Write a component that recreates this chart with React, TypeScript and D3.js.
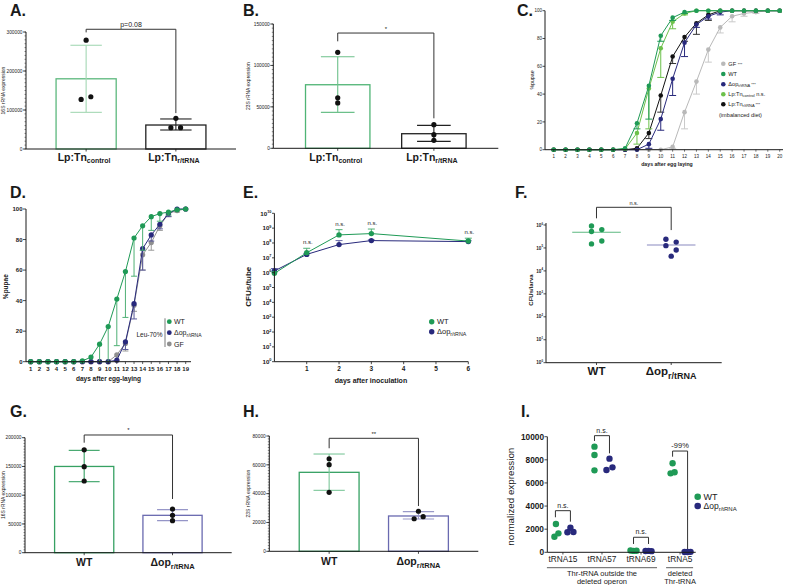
import React from "react";
import * as d3 from "d3";

const FONT = "'Liberation Sans', Arial, Helvetica, sans-serif";
const GREEN = "#1f9a56";
const NAVY = "#28297c";
const LIGHT_GREEN = "#6dc14b";
const GRAY_C = "#b9b9b9";
const GRAY_D = "#8f8f8f";
const INK = "#1a1a1a";

// ---------------- Panel A: 16S rRNA expression (Lp:Tn) ----------------
const aLabelSubs = ["control", "r/tRNA"];
const aMeans = [180000, 61500];
const aErrHigh = [266000, 77000];
const aErrLow = [94000, 48700];
const aDots = [[279000, 127000, 134000], [78700, 54600, 54600]];
const aTicks = [0, 100000, 200000, 300000];
const aBracket = [307000, 299000, 92000];

// ---------------- Panel B: 23S rRNA expression (Lp:Tn) ----------------
const bMeans = [76700, 17600];
const bErrHigh = [110500, 27700];
const bErrLow = [43400, 8400];
const bDots = [[115800, 61000, 54700], [28500, 16400, 9600]];
const bTicks = [0, 50000, 100000, 150000];
const bBracket = [139100, 129100, 36200];

// ---------------- Panel C: %pupae, imbalanced diet ----------------
const cDays = [1, 2, 3, 4, 5, 6, 7, 8, 9, 10, 11, 12, 13, 14, 15, 16, 17, 18, 19, 20];
const cGF = [0, 0, 0, 0, 0, 0, 0, 0, 0, 0, 2, 27, 49, 72, 88, 96, 98, 99, 100, 100];
const cGFLow = [0, 0, 0, 0, 0, 0, 0, 0, 0, 0, 1, 15, 40, 63, 84, 92, 96, 98, 100, 100];
const cWT = [0, 0, 0, 0, 0, 0, 1, 19, 46, 82, 95, 99, 100, 100, 100, 100, 100, 100, 100, 100];
const cWTLow = [0, 0, 0, 0, 0, 0, 1, 15, 22, 78, 93, 98, 100, 100, 100, 100, 100, 100, 100, 100];
const cOp = [0, 0, 0, 0, 0, 0, 0, 0, 4, 22, 51, 77, 90, 96, 99, 100, 100, 100, 100, 100];
const cOpLow = [0, 0, 0, 0, 0, 0, 0, 0, 1, 14, 39, 67, 88, 94, 97, 100, 100, 100, 100, 100];
const cTnC = [0, 0, 0, 0, 0, 0, 0.5, 12, 44, 73, 92, 98, 100, 100, 100, 100, 100, 100, 100, 100];
const cTnCLow = [0, 0, 0, 0, 0, 0, 0.5, 4, 15, 52, 87, 97, 100, 100, 100, 100, 100, 100, 100, 100];
const cTnR = [0, 0, 0, 0, 0, 0, 0, 1, 12, 39, 67, 81, 91, 97, 100, 100, 100, 100, 100, 100];
const cTnRLow = [0, 0, 0, 0, 0, 0, 0, 1, 8, 27, 62, 78, 83, 93, 100, 100, 100, 100, 100, 100];
const cTicks = [0, 20, 40, 60, 80, 100];

// ---------------- Panel D: %pupae, Leu-70% ----------------
const dDays = [1, 2, 3, 4, 5, 6, 7, 8, 9, 10, 11, 12, 13, 14, 15, 16, 17, 18, 19];
const dWT = [0, 0, 0, 0, 0, 0, 0.5, 3, 11.5, 23, 41, 59, 81, 89, 95, 97, 98, 99.5, 100];
const dWTLow = [0, 0, 0, 0, 0, 0, 0.5, 3, 0, 0, 10.5, 29, 56, 73, 86, 92, 96, 99, 100];
const dOp = [0, 0, 0, 0, 0, 0, 0, 0, 0, 0, 1, 13, 38, 74, 83, 90, 97, 100, 100];
const dOpLow = [0, 0, 0, 0, 0, 0, 0, 0, 0, 0, 1, 8, 28, 60, 79, 87, 95, 100, 100];
const dGF = [0, 0, 0, 0, 0, 0, 0, 0, 0, 0, 4.5, 12, 37, 70, 78, 89, 97, 99, 100];
const dGFLow = [0, 0, 0, 0, 0, 0, 0, 0, 0, 0, 1, 7, 33, 60, 73, 86, 95, 98, 100];
const dTicks = [0, 20, 40, 60, 80, 100];

// ---------------- Panel E: CFUs/tube ----------------
const eDays = [0, 1, 2, 3, 6];
const eWT = [9e5, 2.2e7, 3.5e8, 4.3e8, 1.35e8];
const eWTHigh = [1.1e6, 4.4e7, 7.9e8, 8.7e8, 2.1e8];
const eOp = [1.3e6, 1.7e7, 7.8e7, 1.45e8, 1.24e8];
const eOpHigh = [1.9e6, 2.0e7, 1.45e8, 1.6e8, 1.4e8];
const eTickDays = [1, 2, 3, 4, 5, 6];
const eExponents = [0, 1, 2, 3, 4, 5, 6, 7, 8, 9, 10];
const eNsDays = [1, 2, 3, 6];

// ---------------- Panel F: CFUs/larva ----------------
const fCats = ["WT", "op"];
const fWT = [9.1e5, 5.2e5, 6.3e5, 2.0e5, 1.5e5];
const fOp = [2.4e5, 1.26e5, 1.8e5, 8.2e4, 4.4e4];
const fExponents = [0, 1, 2, 3, 4, 5, 6];
const fBracket = [5.9e6, 1.95e6, 6.0e5];

// ---------------- Panel G: 16S rRNA (WT vs Δop) ----------------
const gMeans = [150000, 65000];
const gErrHigh = [178000, 74800];
const gErrLow = [123500, 55700];
const gDots = [[179000, 149600, 124700], [76000, 65000, 55700]];
const gTicks = [0, 50000, 100000, 150000, 200000];
const gBracket = [204700, 191300, 93400];

// ---------------- Panel H: 23S rRNA (WT vs Δop) ----------------
const hMeans = [54800, 24500];
const hErrHigh = [67500, 27500];
const hErrLow = [42300, 22400];
const hDots = [[64200, 60100, 40900], [27800, 22600, 24000]];
const hTicks = [0, 20000, 40000, 60000, 80000];
const hBracket = [78400, 71500, 31400];

// ---------------- Panel I: normalized expression ----------------
const iCats = ["tRNA15", "tRNA57", "tRNA69", "tRNA5"];
const iWT = [[2450, 1350, 1640], [9140, 8420, 7090], [150, 120, 140], [7700, 6830, 6920]];
const iOp = [[2130, 1730, 1760], [8100, 7120, 7350], [110, 120, 100], [30, 20, 40]];
const iBracketTop = [3600, 10090, 1300, 8760];
const iBracketLeft = [3030, 9630, 720, 8270];
const iBracketRight = [2650, 8560, 720, 200];
const iBracketText = ["n.s.", "n.s.", "n.s.", "-99%"];
const iTicks = [0, 2000, 4000, 6000, 8000, 10000];

// ---------- layout-only jitter (pixels) ----------
const jitterA = [[0, -5, 4.7], [0, -5, 4.7]];
const jitterZero = [[0, 0, 0], [0, 0, 0]];
const jitterH = [[0, 0, 0], [0, -4.3, 4.7]];
const jitterFWT = [-5, -5, 5.3, 5.3, -5];
const jitterFOp = [-5.3, -5.3, 5, 5, 0];
const jitterIWT = [[0.5, -1, 3], [0, 0, 0], [-3, 0, 3], [0, -2, 2]];
const jitterIOp = [[0, -3, 3], [0, -3, 3], [-3, 0, 3], [-3, 0, 3]];

const fmt = d3.format("d");

function SubText({ x, y, main, sub, size, subSize, weight = "bold", anchor = "middle", fill = INK, tail = "", tailSize = 0 }: any) {
  return (
    <text x={x} y={y} fontSize={size} fontWeight={weight} textAnchor={anchor} fill={fill}>
      {main}
      <tspan fontSize={subSize} dy={subSize * 0.4}>{sub}</tspan>
      {tail ? <tspan fontSize={tailSize || size} dy={-subSize * 0.4}>{tail}</tspan> : null}
    </text>
  );
}

function PowLabel({ x, y, exp, size }: any) {
  return (
    <text x={x} y={y} fontSize={size} fontWeight="bold" textAnchor="end" fill={INK}>
      10<tspan fontSize={size * 0.62} dy={-size * 0.45}>{exp}</tspan>
    </text>
  );
}

function RotLabel({ x, y, text, size, weight = "normal" }: any) {
  return (
    <text transform={`translate(${x + size * 0.35},${y}) rotate(-90)`} fontSize={size} fontWeight={weight} textAnchor="middle" fill={INK}>
      {text}
    </text>
  );
}

function BarPanel(p: any) {
  const y = d3.scaleLinear().domain([0, p.yMax]).range([p.yBottom, p.yTop]);
  const keys = p.means.map((_: any, i: number) => String(i));
  const x = d3.scalePoint().domain(keys).range([p.x0, p.x1]).padding(0.67);
  const step = x.step();
  const bw = step * 0.67;
  const cw = step * 0.35;
  const cx = (i: number) => x(String(i)) as number;
  const minors = d3.range(0, p.yMax + 1, p.minorStep);
  const [bt, bl, br] = p.bracket;
  return (
    <g>
      {p.means.map((m: number, i: number) => (
        <rect key={"bar" + i} x={cx(i) - bw / 2} y={y(m)} width={bw} height={p.yBottom - y(m)} fill="none" stroke={p.barStroke[i]} strokeWidth={1.3} />
      ))}
      {p.means.map((m: number, i: number) => (
        <g key={"err" + i} stroke={p.errStroke[i]} strokeWidth={1.1}>
          <line x1={cx(i)} x2={cx(i)} y1={y(p.errHigh[i])} y2={y(p.errLow[i])} />
          <line x1={cx(i) - cw / 2} x2={cx(i) + cw / 2} y1={y(p.errHigh[i])} y2={y(p.errHigh[i])} />
          <line x1={cx(i) - cw / 2} x2={cx(i) + cw / 2} y1={y(p.errLow[i])} y2={y(p.errLow[i])} />
        </g>
      ))}
      <path d={`M${cx(0)},${y(bl)}V${y(bt)}H${cx(1)}V${y(br)}`} fill="none" stroke="#333" strokeWidth={1} />
      <text x={(cx(0) + cx(1)) / 2} y={y(bt) - 2.5} fontSize={p.bracketFont} textAnchor="middle" fill={INK}>{p.bracketText}</text>
      {p.dots.map((ds: number[], i: number) =>
        ds.map((d, j) => <circle key={`d${i}-${j}`} cx={cx(i) + p.jitter[i][j]} cy={y(d)} r={2.6} fill="#111" />)
      )}
      <line x1={p.x0} x2={p.x0} y1={p.yTop} y2={p.yBottom} stroke={INK} strokeWidth={1} />
      <line x1={p.x0} x2={p.x1} y1={p.yBottom} y2={p.yBottom} stroke={INK} strokeWidth={1} />
      {minors.map((t: number) => (
        <line key={"mi" + t} x1={p.x0 - 1.5} x2={p.x0} y1={y(t)} y2={y(t)} stroke={INK} strokeWidth={0.5} />
      ))}
      {p.ticks.map((t: number) => (
        <g key={"t" + t}>
          <line x1={p.x0 - 3} x2={p.x0} y1={y(t)} y2={y(t)} stroke={INK} strokeWidth={0.8} />
          <text x={p.x0 - 3.5} y={y(t) + p.tickFont * 0.35} fontSize={p.tickFont} textAnchor="end" fill={INK}>{fmt(t)}</text>
        </g>
      ))}
      {keys.map((k: string, i: number) => (
        <line key={"xt" + k} x1={cx(i)} x2={cx(i)} y1={p.yBottom} y2={p.yBottom + 2.5} stroke={INK} strokeWidth={0.8} />
      ))}
      <RotLabel x={p.yLabelX} y={(p.yTop + p.yBottom) / 2} text={p.yLabel} size={p.yLabelFont} />
      {p.labelMain.map((lm: string, i: number) => (
        <SubText key={"lab" + i} x={cx(i) + p.labelDx} y={p.labelY} main={lm} sub={p.labelSub[i]} size={p.labelSize} subSize={p.labelSubSize} />
      ))}
    </g>
  );
}

function LineSeries({ x, y, days, values, low, color, errColor, r, cap }: any) {
  const line = d3.line<number>().x((_, i) => x(days[i])).y((d) => y(d));
  return (
    <g>
      {values.map((v: number, i: number) =>
        Math.abs(low[i] - v) > 0.4 ? (
          <g key={"e" + i} stroke={errColor} strokeWidth={1}>
            <line x1={x(days[i])} x2={x(days[i])} y1={y(v)} y2={y(low[i])} />
            <line x1={x(days[i]) - cap / 2} x2={x(days[i]) + cap / 2} y1={y(low[i])} y2={y(low[i])} />
          </g>
        ) : null
      )}
      <path d={line(values) as string} fill="none" stroke={color} strokeWidth={1} />
      {values.map((v: number, i: number) => (
        <circle key={"c" + i} cx={x(days[i])} cy={y(v)} r={r} fill={color} />
      ))}
    </g>
  );
}

function PanelC() {
  const x = d3.scaleLinear().domain([1, 20]).range([553.7, 779.7]);
  const y = d3.scaleLinear().domain([0, 100]).range([149.7, 10.7]);
  const legendY = [63.7, 74, 84.3, 94.3, 104.3];
  const lx = 723.3;
  const fs = 5.6;
  return (
    <g>
      <LineSeries x={x} y={y} days={cDays} values={cGF} low={cGFLow} color={GRAY_C} errColor="#c9c9c9" r={2.3} cap={7} />
      <LineSeries x={x} y={y} days={cDays} values={cTnR} low={cTnRLow} color="#111" errColor="#333" r={2.3} cap={7} />
      <LineSeries x={x} y={y} days={cDays} values={cOp} low={cOpLow} color={NAVY} errColor={NAVY} r={2.3} cap={7} />
      <LineSeries x={x} y={y} days={cDays} values={cTnC} low={cTnCLow} color={LIGHT_GREEN} errColor={LIGHT_GREEN} r={2.3} cap={7} />
      <LineSeries x={x} y={y} days={cDays} values={cWT} low={cWTLow} color={GREEN} errColor={GREEN} r={2.3} cap={7} />
      <line x1={545} x2={545} y1={10.7} y2={149.7} stroke={INK} strokeWidth={1} />
      <line x1={545} x2={783} y1={149.7} y2={149.7} stroke={INK} strokeWidth={1} />
      {cTicks.map((t) => (
        <g key={t}>
          <line x1={542.5} x2={545} y1={y(t)} y2={y(t)} stroke={INK} strokeWidth={0.8} />
          <text x={542} y={y(t) + 1.6} fontSize={4.5} textAnchor="end" fill={INK}>{t}</text>
        </g>
      ))}
      {cDays.map((d) => (
        <g key={d}>
          <line x1={x(d)} x2={x(d)} y1={149.7} y2={151.7} stroke={INK} strokeWidth={0.6} />
          <text x={x(d)} y={157.5} fontSize={4.5} textAnchor="middle" fill={INK}>{d}</text>
        </g>
      ))}
      <text x={667} y={165.5} fontSize={5.2} fontWeight="bold" textAnchor="middle" fill={INK}>days after egg laying</text>
      <RotLabel x={532.5} y={80} text="%pupae" size={5.2} />
      <circle cx={lx} cy={legendY[0]} r={2.3} fill={GRAY_C} />
      <circle cx={lx} cy={legendY[1]} r={2.3} fill={GREEN} />
      <circle cx={lx} cy={legendY[2]} r={2.3} fill={NAVY} />
      <circle cx={lx} cy={legendY[3]} r={2.3} fill={LIGHT_GREEN} />
      <circle cx={lx} cy={legendY[4]} r={2.3} fill="#111" />
      <text x={lx + 5} y={legendY[0] + 2} fontSize={fs} fill={INK}>GF <tspan fontSize={4}>***</tspan></text>
      <text x={lx + 5} y={legendY[1] + 2} fontSize={fs} fill={INK}>WT</text>
      <SubText x={lx + 5} y={legendY[2] + 1.5} main="Δop" sub="r/tRNA" size={fs} subSize={4} weight="normal" anchor="start" tail=" ***" tailSize={4} />
      <SubText x={lx + 5} y={legendY[3] + 1.5} main="Lp:Tn" sub="control" size={fs} subSize={4} weight="normal" anchor="start" tail=" n.s." tailSize={fs} />
      <SubText x={lx + 5} y={legendY[4] + 1.5} main="Lp:Tn" sub="r/tRNA" size={fs} subSize={4} weight="normal" anchor="start" tail=" ***" tailSize={4} />
      <text x={719} y={117} fontSize={fs} fill={INK}>(imbalanced diet)</text>
    </g>
  );
}

function PanelD() {
  const x = d3.scaleLinear().domain([1, 19]).range([30.7, 185.7]);
  const y = d3.scaleLinear().domain([0, 100]).range([361.7, 209]);
  return (
    <g>
      <LineSeries x={x} y={y} days={dDays} values={dGF} low={dGFLow} color={GRAY_D} errColor="#9a9a9a" r={2.6} cap={6} />
      <LineSeries x={x} y={y} days={dDays} values={dOp} low={dOpLow} color={NAVY} errColor="#5a5a9a" r={2.6} cap={6} />
      <LineSeries x={x} y={y} days={dDays} values={dWT} low={dWTLow} color={GREEN} errColor="#4fb075" r={2.6} cap={6} />
      <line x1={26} x2={26} y1={209} y2={361.7} stroke={INK} strokeWidth={1} />
      <line x1={26} x2={191} y1={361.7} y2={361.7} stroke={INK} strokeWidth={1} />
      {dTicks.map((t) => (
        <g key={t}>
          <line x1={23} x2={26} y1={y(t)} y2={y(t)} stroke={INK} strokeWidth={0.8} />
          <text x={22.5} y={y(t) + 2.1} fontSize={6} fontWeight="bold" textAnchor="end" fill={INK}>{t}</text>
        </g>
      ))}
      {dDays.map((d) => (
        <g key={d}>
          <line x1={x(d)} x2={x(d)} y1={361.7} y2={364} stroke={INK} strokeWidth={0.7} />
          <text x={x(d)} y={370.5} fontSize={6} fontWeight="bold" textAnchor="middle" fill={INK}>{d}</text>
        </g>
      ))}
      <text x={108.5} y={381} fontSize={6.5} fontWeight="bold" textAnchor="middle" fill={INK}>days after egg-laying</text>
      <RotLabel x={5.5} y={286.7} text="%pupae" size={6.5} weight="bold" />
      <line x1={165} x2={165} y1={318.3} y2={347} stroke="#555" strokeWidth={0.8} />
      <text x={162.5} y={337} fontSize={6.5} textAnchor="end" fill={INK}>Leu-70%</text>
      <circle cx={169.3} cy={321.7} r={2.4} fill={GREEN} />
      <circle cx={169.3} cy={332.7} r={2.4} fill={NAVY} />
      <circle cx={169.3} cy={344} r={2.4} fill={GRAY_D} />
      <text x={174} y={324.2} fontSize={7} fill={INK}>WT</text>
      <SubText x={174} y={335} main="Δop" sub="r/tRNA" size={7} subSize={5} weight="normal" anchor="start" />
      <text x={174} y={346.5} fontSize={7} fill={INK}>GF</text>
    </g>
  );
}

function PanelE() {
  const x = d3.scaleLinear().domain([0, 6]).range([274.4, 468.3]);
  const y = d3.scaleLog().domain([1, 1e10]).range([361.7, 213.3]);
  const line = d3.line<number>().x((_, i) => x(eDays[i])).y((d) => y(d));
  const series = [
    { v: eOp, hi: eOpHigh, c: NAVY, ec: "#6a6aa8" },
    { v: eWT, hi: eWTHigh, c: GREEN, ec: "#4fb075" },
  ];
  return (
    <g>
      {series.map((s, si) => (
        <g key={si}>
          {s.v.map((v, i) => (
            <g key={i} stroke={s.ec} strokeWidth={1}>
              <line x1={x(eDays[i])} x2={x(eDays[i])} y1={y(v)} y2={y(s.hi[i])} />
              <line x1={x(eDays[i]) - 3.5} x2={x(eDays[i]) + 3.5} y1={y(s.hi[i])} y2={y(s.hi[i])} />
            </g>
          ))}
          <path d={line(s.v) as string} fill="none" stroke={s.c} strokeWidth={1} />
          {s.v.map((v, i) => (
            <circle key={"c" + i} cx={x(eDays[i])} cy={y(v)} r={2.7} fill={s.c} />
          ))}
        </g>
      ))}
      {eNsDays.map((d) => {
        const i = eDays.indexOf(d);
        const top = Math.min(y(eWTHigh[i]), y(eOpHigh[i]));
        return (
          <text key={d} x={x(d) + 1} y={top - 4} fontSize={6} textAnchor="middle" fill={INK}>n.s.</text>
        );
      })}
      <line x1={274.4} x2={274.4} y1={213.3} y2={361.7} stroke={INK} strokeWidth={1} />
      <line x1={274.4} x2={468.3} y1={361.7} y2={361.7} stroke={INK} strokeWidth={1} />
      {eExponents.map((e) => (
        <g key={e}>
          <line x1={272} x2={274.4} y1={y(Math.pow(10, e))} y2={y(Math.pow(10, e))} stroke={INK} strokeWidth={0.8} />
          <PowLabel x={271.5} y={y(Math.pow(10, e)) + 2.3} exp={e} size={6.2} />
        </g>
      ))}
      {eTickDays.map((d) => (
        <g key={d}>
          <line x1={x(d)} x2={x(d)} y1={361.7} y2={364.2} stroke={INK} strokeWidth={0.8} />
          <text x={x(d)} y={371} fontSize={6.5} fontWeight="bold" textAnchor="middle" fill={INK}>{d}</text>
        </g>
      ))}
      <text x={371} y={382.5} fontSize={7} fontWeight="bold" textAnchor="middle" fill={INK}>days after inoculation</text>
      <RotLabel x={248} y={286.7} text="CFUs/tube" size={8} weight="bold" />
      <circle cx={431.7} cy={321.7} r={2.7} fill={GREEN} />
      <circle cx={431.7} cy={331.7} r={2.7} fill={NAVY} />
      <text x={437} y={324.4} fontSize={7.5} fill={INK}>WT</text>
      <SubText x={437} y={334.2} main="Δop" sub="r/tRNA" size={7.5} subSize={5.3} weight="normal" anchor="start" />
    </g>
  );
}

function PanelF() {
  const y = d3.scaleLog().domain([1, 1e6]).range([362.7, 225]);
  const x = d3.scalePoint().domain(fCats).range([546, 721.7]).padding(0.676);
  const step = x.step();
  const cw = step * 0.65;
  const groups = [
    { v: fWT, j: jitterFWT, c: GREEN, lc: "#5cb880", cx: x("WT") as number },
    { v: fOp, j: jitterFOp, c: NAVY, lc: "#8a8ac0", cx: x("op") as number },
  ];
  const [bt, bl, br] = fBracket;
  return (
    <g>
      {groups.map((g, gi) => (
        <g key={gi}>
          <line x1={g.cx - cw / 2} x2={g.cx + cw / 2} y1={y(d3.mean(g.v) as number)} y2={y(d3.mean(g.v) as number)} stroke={g.lc} strokeWidth={1.2} />
          {g.v.map((v, i) => (
            <circle key={i} cx={g.cx + g.j[i]} cy={y(v)} r={2.7} fill={g.c} />
          ))}
        </g>
      ))}
      <path d={`M${groups[0].cx},${y(bl)}V${y(bt)}H${groups[1].cx}V${y(br)}`} fill="none" stroke="#333" strokeWidth={1} />
      <text x={(groups[0].cx + groups[1].cx) / 2} y={y(bt) - 2.5} fontSize={5.5} textAnchor="middle" fill={INK}>n.s.</text>
      <line x1={546} x2={546} y1={223} y2={362.7} stroke={INK} strokeWidth={1} />
      <line x1={546} x2={721.7} y1={362.7} y2={362.7} stroke={INK} strokeWidth={1} />
      {fExponents.map((e) => (
        <g key={e}>
          <line x1={543.5} x2={546} y1={y(Math.pow(10, e))} y2={y(Math.pow(10, e))} stroke={INK} strokeWidth={0.8} />
          <PowLabel x={543} y={y(Math.pow(10, e)) + 1.6} exp={e} size={4.6} />
        </g>
      ))}
      {groups.map((g, gi) => (
        <line key={"xt" + gi} x1={g.cx} x2={g.cx} y1={362.7} y2={365} stroke={INK} strokeWidth={0.8} />
      ))}
      <RotLabel x={531} y={290} text="CFUs/larva" size={6} weight="bold" />
      <text x={groups[0].cx} y={375} fontSize={11.5} fontWeight="bold" textAnchor="middle" fill={INK}>WT</text>
      <SubText x={groups[1].cx} y={375} main="Δop" sub="r/tRNA" size={11.5} subSize={9} />
    </g>
  );
}

function PanelI() {
  const y = d3.scaleLinear().domain([0, 10000]).range([552.3, 436.7]);
  const x = d3.scalePoint().domain(iCats).range([547.3, 695.7]).padding(0.4);
  const off = 7.5;
  const c = (i: number) => x(iCats[i]) as number;
  return (
    <g>
      {iCats.map((cat, i) => (
        <g key={cat}>
          <path d={`M${c(i) - off},${y(iBracketLeft[i])}V${y(iBracketTop[i])}H${c(i) + off}V${y(iBracketRight[i])}`} fill="none" stroke="#333" strokeWidth={1} />
          <text x={c(i)} y={y(iBracketTop[i]) - 3} fontSize={i === 3 ? 7.5 : 7} textAnchor="middle" fill={INK}>{iBracketText[i]}</text>
          {iWT[i].map((v, j) => (
            <circle key={"w" + j} cx={c(i) - off + jitterIWT[i][j]} cy={y(v)} r={3.2} fill={GREEN} />
          ))}
          {iOp[i].map((v, j) => (
            <circle key={"o" + j} cx={c(i) + off + jitterIOp[i][j]} cy={y(v)} r={3.2} fill={NAVY} />
          ))}
          <line x1={c(i)} x2={c(i)} y1={552.3} y2={554.5} stroke={INK} strokeWidth={0.8} />
          <text x={c(i)} y={562} fontSize={8.3} textAnchor="middle" fill={INK}>{cat}</text>
        </g>
      ))}
      <line x1={547.3} x2={547.3} y1={436.7} y2={552.3} stroke={INK} strokeWidth={1} />
      <line x1={547.3} x2={695.7} y1={552.3} y2={552.3} stroke={INK} strokeWidth={1} />
      {iTicks.map((t) => (
        <g key={t}>
          <line x1={544.5} x2={547.3} y1={y(t)} y2={y(t)} stroke={INK} strokeWidth={0.8} />
          <text x={544} y={y(t) + 3} fontSize={8.3} fontWeight="bold" textAnchor="end" fill={INK}>{t}</text>
        </g>
      ))}
      <line x1={c(0) - 16} x2={c(2) + 16} y1={567.7} y2={567.7} stroke="#333" strokeWidth={0.8} />
      <line x1={c(3) - 14} x2={c(3) + 13} y1={567.7} y2={567.7} stroke="#333" strokeWidth={0.8} />
      <text x={(c(0) + c(2)) / 2} y={576} fontSize={7.5} textAnchor="middle" fill={INK}>Thr-tRNA outside the</text>
      <text x={(c(0) + c(2)) / 2} y={583.5} fontSize={7.5} textAnchor="middle" fill={INK}>deleted operon</text>
      <text x={c(3)} y={576} fontSize={7.5} textAnchor="middle" fill={INK}>deleted</text>
      <text x={c(3)} y={583.5} fontSize={7.5} textAnchor="middle" fill={INK}>Thr-tRNA</text>
      <RotLabel x={510.5} y={496.7} text="normalized expression" size={9.8} />
      <circle cx={697.7} cy={496.7} r={3.3} fill={GREEN} />
      <circle cx={697.7} cy={506} r={3.3} fill={NAVY} />
      <text x={703.5} y={500} fontSize={9} fill={INK}>WT</text>
      <SubText x={703.5} y={509} main="Δop" sub="r/tRNA" size={8.5} subSize={6} weight="normal" anchor="start" />
    </g>
  );
}

function PanelLetter({ x, y, t }: any) {
  return <text x={x} y={y} fontSize={16} fontWeight="bold" fill={INK}>{t}</text>;
}

export default function App() {
  return (
    <svg width={789} height={585} viewBox="0 0 789 585" style={{ position: "absolute", left: 0, top: 0, background: "#fff" }} fontFamily={FONT}>
      <rect width={789} height={585} fill="#fff" />
      <PanelLetter x={10} y={15.5} t="A." />
      <PanelLetter x={243} y={15.5} t="B." />
      <PanelLetter x={517} y={16} t="C." />
      <PanelLetter x={10} y={198} t="D." />
      <PanelLetter x={243} y={198} t="E." />
      <PanelLetter x={515} y={198} t="F." />
      <PanelLetter x={10} y={417} t="G." />
      <PanelLetter x={243} y={417} t="H." />
      <PanelLetter x={521} y={417} t="I." />

      <BarPanel x0={26} x1={236} yTop={32} yBottom={149} yMax={300000} ticks={aTicks} minorStep={10000} tickFont={4.8}
        means={aMeans} errHigh={aErrHigh} errLow={aErrLow} dots={aDots} jitter={jitterA}
        barStroke={["#5cb87d", "#222"]} errStroke={["#a4d8b4", "#222"]}
        bracket={aBracket} bracketText="p=0.08" bracketFont={7}
        yLabel="16S rRNA expression" yLabelX={3.3} yLabelFont={5}
        labelMain={["Lp:Tn", "Lp:Tn"]} labelSub={aLabelSubs} labelY={160.5} labelSize={10.5} labelSubSize={7} labelDx={-2} />

      <BarPanel x0={273.3} x1={498.3} yTop={24} yBottom={148.3} yMax={150000} ticks={bTicks} minorStep={5000} tickFont={4.8}
        means={bMeans} errHigh={bErrHigh} errLow={bErrLow} dots={bDots} jitter={jitterZero}
        barStroke={["#4fb475", "#222"]} errStroke={["#6cc08a", "#222"]}
        bracket={bBracket} bracketText="*" bracketFont={6}
        yLabel="23S rRNA expression" yLabelX={248.3} yLabelFont={5}
        labelMain={["Lp:Tn", "Lp:Tn"]} labelSub={aLabelSubs} labelY={160.5} labelSize={10.5} labelSubSize={7} labelDx={-2} />

      <PanelC />
      <PanelD />
      <PanelE />
      <PanelF />

      <BarPanel x0={25} x1={231.7} yTop={437.7} yBottom={552.7} yMax={200000} ticks={gTicks} minorStep={5000} tickFont={4.8}
        means={gMeans} errHigh={gErrHigh} errLow={gErrLow} dots={gDots} jitter={jitterZero}
        barStroke={["#36a163", "#6a6ab0"]} errStroke={["#36a163", "#8686bf"]}
        bracket={gBracket} bracketText="*" bracketFont={6}
        yLabel="16S rRNA expression" yLabelX={3.3} yLabelFont={5}
        labelMain={["WT", "Δop"]} labelSub={["", "r/tRNA"]} labelY={566} labelSize={10.5} labelSubSize={7.5} labelDx={0} />

      <BarPanel x0={269.3} x1={478.3} yTop={436} yBottom={551.3} yMax={80000} ticks={hTicks} minorStep={2000} tickFont={4.8}
        means={hMeans} errHigh={hErrHigh} errLow={hErrLow} dots={hDots} jitter={jitterH}
        barStroke={["#36a163", "#6a6ab0"]} errStroke={["#7cc79a", "#9a9ac8"]}
        bracket={hBracket} bracketText="**" bracketFont={6}
        yLabel="23S rRNA expression" yLabelX={248.3} yLabelFont={5}
        labelMain={["WT", "Δop"]} labelSub={["", "r/tRNA"]} labelY={565} labelSize={10.5} labelSubSize={7.5} labelDx={0} />

      <PanelI />
    </svg>
  );
}
